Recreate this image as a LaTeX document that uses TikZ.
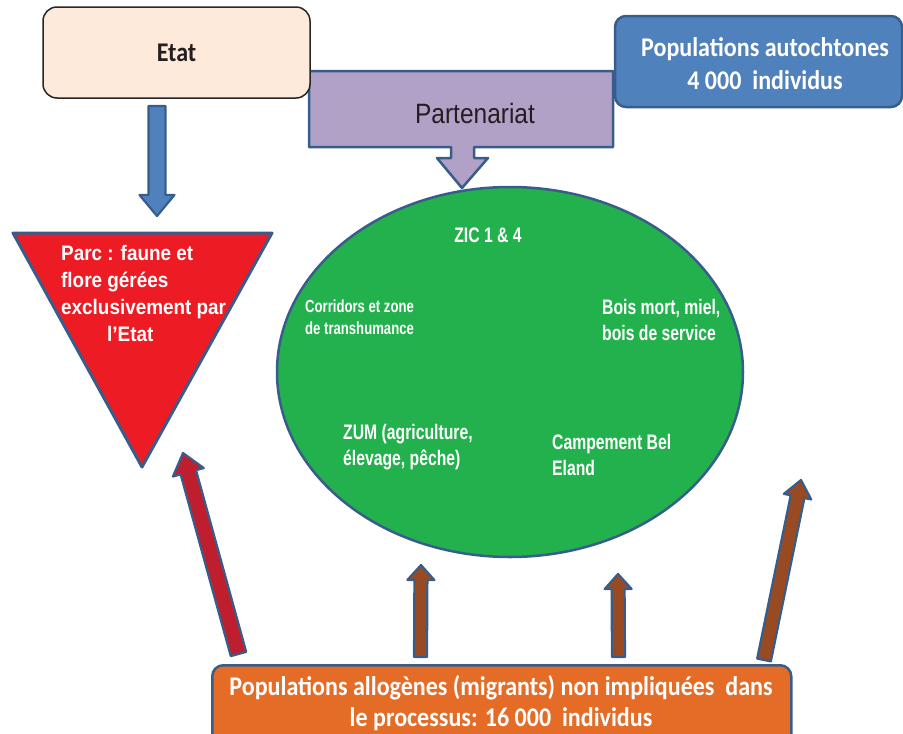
\documentclass[tikz,border=0pt]{standalone}
\usepackage{fontspec}
\setmainfont{Carlito}
\newfontfamily\calN[FakeStretch=0.89]{Carlito}
\newfontfamily\arN[FakeStretch=0.75]{Liberation Sans}
\newfontfamily\arT[FakeStretch=0.9]{Liberation Sans}
\newfontfamily\arP[FakeStretch=0.875]{Liberation Sans}
\usetikzlibrary{calc,shapes.geometric}
\definecolor{outl}{HTML}{385D8A}
\definecolor{etatfill}{HTML}{FDEADA}
\definecolor{lav}{HTML}{B2A1C7}
\definecolor{bluef}{HTML}{4F81BD}
\definecolor{redtri}{HTML}{ED1C24}
\definecolor{greenf}{HTML}{23B14D}
\definecolor{redarr}{HTML}{BE1E2D}
\definecolor{brownarr}{HTML}{984B23}
\definecolor{orangef}{HTML}{E46C26}
\definecolor{darktext}{HTML}{231F20}
% block arrow: #1 style, #2 tail, #3 tip, #4 shaft half width, #5 head half width, #6 head length
\newcommand\blockarrow[6]{%
  \path let \p1=($(#3)-(#2)$) in \pgfextra{%
    \pgfmathsetmacro\BAlen{veclen(\x1,\y1)}%
    \pgfmathsetmacro\BAang{atan2(\y1,\x1)}%
    \xdef\BAlenG{\BAlen}\xdef\BAangG{\BAang}};
  \draw[#1,shift={(#2)},rotate=\BAangG] (0pt,-#4pt) -- ({\BAlenG pt-#6pt},-#4pt)
    -- ({\BAlenG pt-#6pt},-#5pt) -- (\BAlenG pt,0pt) -- ({\BAlenG pt-#6pt},#5pt)
    -- ({\BAlenG pt-#6pt},#4pt) -- (0pt,#4pt) -- cycle;
}
\begin{document}
\begin{tikzpicture}[x=1pt,y=-1pt,
  shapeline/.style={draw=outl,line width=2.5pt,line join=round},
  calbold/.style={font=\calN\bfseries\fontsize{27}{33}\selectfont},
  whitetxt/.style={text=white,inner sep=0pt},
  ellsmall/.style={whitetxt,align=left,anchor=west,font=\arN\bfseries\fontsize{17.5}{22}\selectfont},
  elltxt/.style={whitetxt,align=left,anchor=west,font=\arN\bfseries\fontsize{21}{26.5}\selectfont}]
\useasboundingbox (0,0) rectangle (903,734);

% Partenariat callout
\filldraw[shapeline,fill=lav] (309,71) coordinate (p1) -- (613,71) -- (613,147) -- (474,147) -- (474,158)
  -- (488,158) -- (462,188) coordinate (parttip) -- (437,158) -- (451,158) -- (451,147) -- (309,147) -- cycle;
\node[text=darktext,font=\arP\fontsize{28}{33}\selectfont,inner sep=0pt] (part) at (475,113) {Partenariat};

% Etat
\node[draw=black!85,line width=1.5pt,fill=etatfill,rounded corners=14pt,minimum width=267pt,
  minimum height=91pt,calbold,text=darktext] (etat) at (176.5,52.5) {Etat};

% Populations autochtones
\node[shapeline,fill=bluef,rounded corners=11pt,minimum width=287pt,minimum height=91pt] (auto) at (758.5,61.5) {};
\node[whitetxt,calbold,align=center] (autotxt) at (765,64) {Populations autochtones\\4 000\ \ individus};

% Etat -> Parc arrow
\coordinate (etatout) at (157,106);
\coordinate (parctop) at (157,216);
\blockarrow{shapeline,line width=2.2pt,fill=bluef}{etatout}{parctop}{8.5}{17.5}{21}

% Parc triangle
\filldraw[shapeline,line width=3pt,fill=redtri] (13,233) coordinate (tl) -- (272,233) coordinate (tr)
  -- (142,467) coordinate (parcbot) -- cycle;
\node[whitetxt,align=left,anchor=west,font=\arT\bfseries\fontsize{21}{27}\selectfont] (parctxt) at (61,293)
  {Parc : faune et\\flore gérées\\exclusivement par\\\hspace*{46pt}l’Etat};

% ZIC ellipse
\node[ellipse,shapeline,fill=greenf,minimum width=466pt,minimum height=370pt,inner sep=0pt] (zic) at (510,372) {};
\node[whitetxt,font=\arN\bfseries\fontsize{21}{26}\selectfont] (zictxt) at (488,235) {ZIC 1 \& 4};
\node[ellsmall] (corr) at (305,317) {Corridors et zone\\de transhumance};
\node[elltxt] (bois) at (602,320) {Bois mort, miel,\\bois de service};
\node[elltxt] (zum) at (343,447) {ZUM (agriculture,\\élevage, pêche)};
\node[elltxt] (camp) at (552,455) {Campement Bel\\Eland};

% arrows from migrants
\coordinate (a1t) at (238.5,654); \coordinate (a1h) at (183,453);
\coordinate (a2t) at (420.5,657); \coordinate (a2h) at (421,565);
\coordinate (a3t) at (618.5,657); \coordinate (a3h) at (618,574);
\coordinate (a4t) at (764,660); \coordinate (a4h) at (801,480);
\blockarrow{shapeline,line width=2.2pt,fill=redarr}{a1t}{a1h}{8}{16}{20}
\blockarrow{shapeline,line width=2.2pt,fill=brownarr}{a2t}{a2h}{6.5}{13.5}{15}
\blockarrow{shapeline,line width=2.2pt,fill=brownarr}{a3t}{a3h}{6.5}{13.5}{15}
\blockarrow{shapeline,line width=2.2pt,fill=brownarr}{a4t}{a4h}{7}{14}{17}

% migrants box
\node[shapeline,fill=orangef,rounded corners=11pt,minimum width=579pt,minimum height=90pt,anchor=north west] (allo) at (211,664) {};
\node[whitetxt,align=center,font=\calN\bfseries\fontsize{27}{31}\selectfont] (allotxt) at (501,703)
  {Populations allogènes (migrants) non impliquées\ \ dans\\le processus: 16 000\ \ individus};
\end{tikzpicture}
\end{document}
